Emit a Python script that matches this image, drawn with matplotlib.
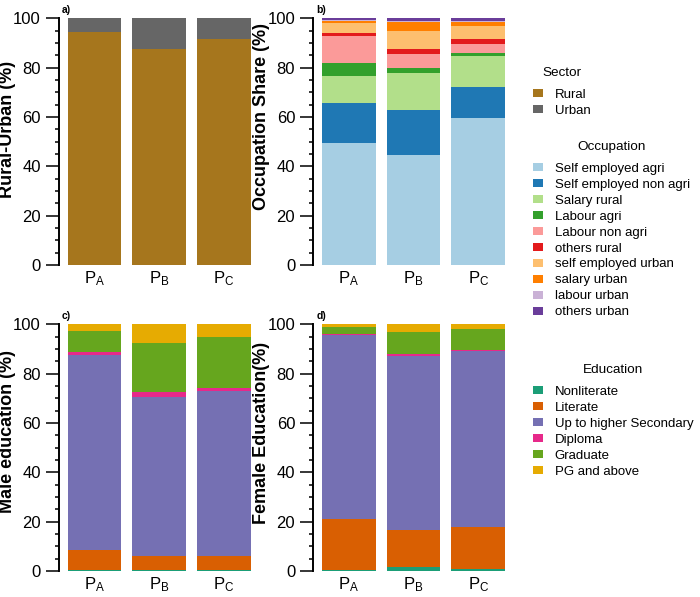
import numpy as np
import matplotlib
matplotlib.use("Agg")
import matplotlib.pyplot as plt
from matplotlib.patches import Patch

plt.rcParams['font.family'] = ['Liberation Sans', 'DejaVu Sans']
plt.rcParams['mathtext.fontset'] = 'custom'
plt.rcParams['mathtext.rm'] = 'Liberation Sans'
plt.rcParams['mathtext.it'] = 'Liberation Sans'

# x categories
groups = [r'P$_\mathrm{A}$', r'P$_\mathrm{B}$', r'P$_\mathrm{C}$']

# a) sector
sector_labels = ['Rural', 'Urban']
sector_colors = ['#A6761D', '#666666']
rural = [94.3, 87.6, 91.5]
urban = [5.7, 12.4, 8.5]

# b) occupation
occ_labels = ['Self employed agri', 'Self employed non agri', 'Salary rural', 'Labour agri',
              'Labour non agri', 'others rural', 'self employed urban', 'salary urban',
              'labour urban', 'others urban']
occ_colors = ['#A6CEE3', '#1F78B4', '#B2DF8A', '#33A02C', '#FB9A99',
              '#E31A1C', '#FDBF6F', '#FF7F00', '#CAB2D6', '#6A3D9A']
self_agri = [49.5, 44.7, 59.5]
self_nonagri = [16.3, 18.0, 12.8]
salary_rural = [10.8, 15.3, 12.5]
labour_agri = [5.2, 2.0, 1.0]
labour_nonagri = [10.9, 5.6, 3.7]
others_rural = [1.5, 2.0, 2.0]
self_urban = [4.0, 7.4, 5.5]
salary_urban = [0.6, 3.6, 1.6]
labour_urban = [0.6, 0.4, 0.5]
others_urban = [0.6, 1.0, 0.9]

# c), d) education
edu_labels = ['Nonliterate', 'Literate', 'Up to higher Secondary', 'Diploma', 'Graduate', 'PG and above']
edu_colors = ['#1B9E77', '#D95F02', '#7570B3', '#E7298A', '#66A61E', '#E6AB02']
male_nonlit = [0.4, 0.6, 0.5]
male_lit = [8.1, 5.3, 5.7]
male_hs = [79.1, 64.8, 66.8]
male_dip = [1.0, 2.0, 1.0]
male_grad = [8.8, 19.9, 20.7]
male_pg = [2.6, 7.4, 5.3]
fem_nonlit = [0.4, 1.5, 0.7]
fem_lit = [20.8, 15.1, 17.3]
fem_hs = [74.3, 70.7, 71.1]
fem_dip = [0.5, 0.7, 0.5]
fem_grad = [3.0, 8.9, 8.5]
fem_pg = [1.0, 3.1, 1.9]

W, H = 700, 597
fig = plt.figure(figsize=(W / 100, H / 100), dpi=100)


def px_axes(left, bottom_px, width=200.6, height=246.7):
    # rect from pixel coords (bottom_px = pixel row of y=0)
    return fig.add_axes([left / W, 1 - bottom_px / H, width / W, height / H])


def stacked(ax, series, colors, ylabel, tag, label_y):
    x = np.arange(1, len(groups) + 1)
    bottom = np.zeros(len(groups))
    for vals, col in zip(series, colors):
        ax.bar(x, vals, width=0.83, bottom=bottom, color=col, edgecolor='none')
        bottom += np.array(vals)
    ax.set_xlim(0.45, 3.55)
    ax.set_ylim(0, 100)
    ax.set_xticks(x)
    ax.set_xticklabels(groups, fontsize=12)
    ax.tick_params(axis='x', length=0, pad=3)
    ax.set_yticks(np.arange(0, 101, 20))
    ax.set_yticks(np.arange(0, 101, 5), minor=True)
    ax.tick_params(axis='y', which='major', length=9.5, width=1.1, labelsize=12, pad=3.5)
    ax.tick_params(axis='y', which='minor', length=2.8, width=1.1)
    for s in ['top', 'right', 'bottom']:
        ax.spines[s].set_visible(False)
    ax.spines['left'].set_linewidth(1.4)
    ax.spines['left'].set_bounds(0, 100)
    ax.set_ylabel(ylabel, fontsize=13, fontweight='bold')
    ax.yaxis.set_label_coords(-0.215, label_y)
    ax.text(0.015, 1.035, tag, transform=ax.transAxes, fontsize=7.5,
            fontweight='bold', va='center', ha='left')


ax_a = px_axes(59, 265)
ax_b = px_axes(313.3, 265)
ax_c = px_axes(59, 571)
ax_d = px_axes(313.3, 571)

stacked(ax_a, [rural, urban], sector_colors, 'Rural-Urban (%)', 'a)', 0.55)
stacked(ax_b, [self_agri, self_nonagri, salary_rural, labour_agri, labour_nonagri,
               others_rural, self_urban, salary_urban, labour_urban, others_urban],
        occ_colors, 'Occupation Share (%)', 'b)', 0.6)
stacked(ax_c, [male_nonlit, male_lit, male_hs, male_dip, male_grad, male_pg],
        edu_colors, 'Male education (%)', 'c)', 0.565)
stacked(ax_d, [fem_nonlit, fem_lit, fem_hs, fem_dip, fem_grad, fem_pg],
        edu_colors, 'Female Education(%)', 'd)', 0.56)


def add_legend(labels, colors, title, top_px):
    handles = [Patch(facecolor=c, edgecolor='none') for c in colors]
    leg = fig.legend(handles, labels, title=title, loc='upper left',
                     bbox_to_anchor=(533 / W, 1 - top_px / H), frameon=False,
                     fontsize=9.5, title_fontsize=9.7, borderpad=0, borderaxespad=0,
                     handlelength=0.75, handleheight=0.6, handletextpad=0.9,
                     labelspacing=0.3)
    leg._legend_box.sep = 7
    return leg


add_legend(sector_labels, sector_colors, 'Sector', 67)
add_legend(occ_labels, occ_colors, 'Occupation', 141)
add_legend(edu_labels, edu_colors, 'Education', 364)

fig.savefig('out.png', dpi=100)
